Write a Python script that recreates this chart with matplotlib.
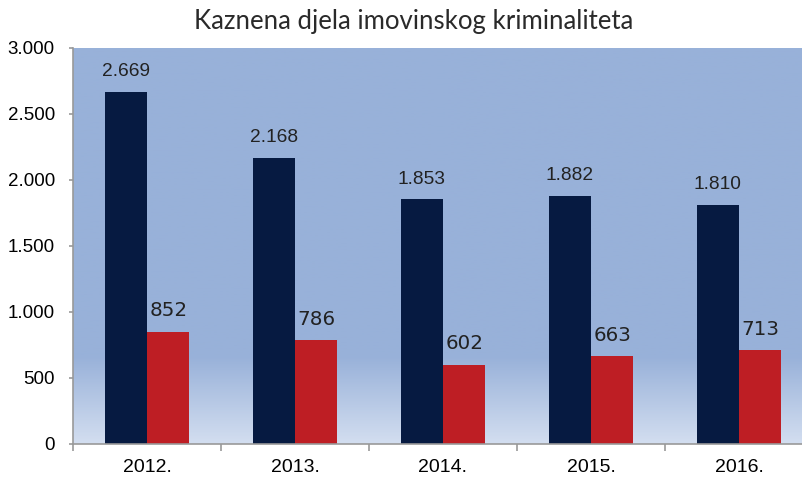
import numpy as np
import matplotlib.pyplot as plt
from matplotlib.colors import LinearSegmentedColormap

godine = ['2012.', '2013.', '2014.', '2015.', '2016.']
ukupno = [2669, 2168, 1853, 1882, 1810]
razriješeno = [852, 786, 602, 663, 713]

fig = plt.figure(figsize=(8.03, 4.79), dpi=100)
ax = fig.add_axes([73/803, 35/479, 740/803, 396/479])

x = np.arange(len(godine))
w = 0.287

# pozadina s prijelazom boje pri dnu
cmap = LinearSegmentedColormap.from_list('bg', [(0, '#d3def0'), (0.22, '#98b1d9'), (1, '#98b1d9')])
grad = np.linspace(0, 1, 256).reshape(-1, 1)
ax.imshow(grad, cmap=cmap, origin='lower', aspect='auto',
          extent=[-0.5, len(godine) - 0.5, 0, 3000], zorder=0)

ax.bar(x - w/2, ukupno, w, color='#061a41', zorder=2)
ax.bar(x + w/2, razriješeno, w, color='#be1e24', zorder=2)

for xi, v in zip(x, ukupno):
    ax.annotate(f'{v:,}'.replace(',', '.'), (xi - w/2, v), xytext=(0, 14.5),
                textcoords='offset points', ha='center', va='center',
                fontsize=13.8, family='Liberation Sans', color='#222222')
for xi, v in zip(x, razriješeno):
    ax.annotate(str(v), (xi + w/2, v), xytext=(0, 15),
                textcoords='offset points', ha='center', va='center',
                fontsize=14.3, family='DejaVu Sans', color='#222222')

ax.set_xlim(-0.5, len(godine) - 0.5)
ax.set_ylim(0, 3000)
ax.set_yticks(range(0, 3001, 500))
ax.set_yticklabels([f'{t:,}'.replace(',', '.') for t in range(0, 3001, 500)],
                   family='Liberation Sans', fontsize=13.5)
ax.set_xticks(x)
ax.set_xticklabels(godine, family='Liberation Sans', fontsize=14)
ax.set_xticks(np.arange(-0.5, len(godine)), minor=True)
ax.tick_params(axis='x', which='major', length=0, pad=11)
ax.tick_params(axis='x', which='minor', length=5, color='#999999', width=1.2)
ax.tick_params(axis='y', length=3, color='#999999', width=1.2, pad=10)

for s in ['top', 'right']:
    ax.spines[s].set_visible(False)
for s in ['left', 'bottom']:
    ax.spines[s].set_color('#999999')
    ax.spines[s].set_linewidth(1.2)

fig.text(414/803, 1 - 22/479, 'Kaznena djela imovinskog kriminaliteta',
         ha='center', va='center', fontsize=18.5, family='Lato', color='#2a2a2a')

fig.savefig('out.png', dpi=100)
